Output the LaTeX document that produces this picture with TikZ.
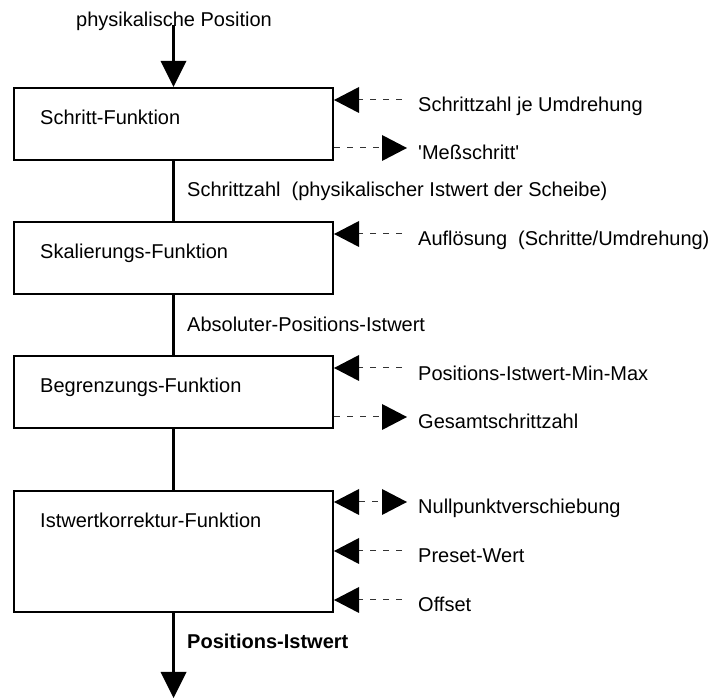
\documentclass[tikz,border=0pt]{standalone}
\usepackage{fontspec}
\setmainfont{Liberation Sans}
\usetikzlibrary{arrows.meta}

\begin{document}
\begin{tikzpicture}[x=1pt, y=-1pt,
  every node/.style={font=\fontsize{20}{24}\selectfont, inner sep=0pt},
  funcbox/.style={draw, line width=2pt, minimum width=319pt, fill=white},
  flow/.style={line width=2.2pt},
  flowarrow/.style={flow, -{Triangle[length=26pt, width=26pt, line width=0pt]}},
  tip/.style={},
  sidebase/.style={draw=black!80, line width=1pt, dash pattern=on 6pt off 7pt},
  sidein/.style={sidebase,
    -{Triangle[length=25pt, width=26pt, line width=0pt, fill=black, color=black]}},
  sideout/.style={sidebase,
    -{Triangle[length=25pt, width=26pt, line width=0pt, fill=black, color=black]}},
  sideboth/.style={sidebase,
    {Triangle[length=25pt, width=26pt, line width=0pt, fill=black, color=black]}-{Triangle[length=25pt, width=26pt, line width=0pt, fill=black, color=black]}},
  lbl/.style={anchor=base west},
]
\useasboundingbox (0,0) rectangle (716,700);

% function blocks
\node[funcbox, minimum height=72pt]  (b1) at (173.5,124)   {};
\node[funcbox, minimum height=72pt]  (b2) at (173.5,258)   {};
\node[funcbox, minimum height=72pt]  (b3) at (173.5,392)   {};
\node[funcbox, minimum height=121pt] (b4) at (173.5,551.5) {};

\node[lbl] (t1) at (40,125) {Schritt-Funktion};
\node[lbl] (t2) at (40,259) {Skalierungs-Funktion};
\node[lbl] (t3) at (40,393) {Begrenzungs-Funktion};
\node[lbl] (t4) at (40,528) {Istwertkorrektur-Funktion};

% main signal path
\node[lbl] (pin) at (76,27) {physikalische Position};
\coordinate (src) at (173.5,25);
\coordinate (dst) at (173.5,698);
\draw[flowarrow] (src) -- (b1.north);
\draw[flow] (b1.south) -- (b2.north);
\draw[flow] (b2.south) -- (b3.north);
\draw[flow] (b3.south) -- (b4.north);
\draw[flowarrow] (b4.south) -- (dst);

\node[lbl] (s1) at (187,197) {Schrittzahl\ \ (physikalischer Istwert der Scheibe)};
\node[lbl] (s2) at (187,332) {Absoluter-Positions-Istwert};
\node[lbl, font=\fontsize{20}{24}\selectfont\bfseries] (s3) at (187,649) {Positions-Istwert};

% parameters and outputs at the side
\node[lbl] (l1) at (418,112) {Schrittzahl je Umdrehung};
\node[lbl] (l2) at (418,160) {\textquotesingle Meßschritt\textquotesingle};
\node[lbl] (l3) at (418,246) {Auflösung\ \ (Schritte/Umdrehung)};
\node[lbl] (l4) at (418,381) {Positions-Istwert-Min-Max};
\node[lbl] (l5) at (418,429) {Gesamtschrittzahl};
\node[lbl] (l6) at (418,514) {Nullpunktverschiebung};
\node[lbl] (l7) at (418,563) {Preset-Wert};
\node[lbl] (l8) at (418,612) {Offset};

\coordinate (p1) at (402,100);
\coordinate (p2) at (407,148);
\coordinate (p3) at (402,234);
\coordinate (p4) at (402,368);
\coordinate (p5) at (407,417);
\coordinate (p6) at (407,502);
\coordinate (p7) at (402,551);
\coordinate (p8) at (402,600);

\draw[sidein]   (p1) -- (p1 -| b1.east);
\draw[sideout]  (p2 -| b1.east) -- (p2);
\draw[sidein]   (p3) -- (p3 -| b2.east);
\draw[sidein]   (p4) -- (p4 -| b3.east);
\draw[sideout]  (p5 -| b3.east) -- (p5);
\draw[sideboth] (p6 -| b4.east) -- (p6);
\draw[sidein]   (p7) -- (p7 -| b4.east);
\draw[sidein]   (p8) -- (p8 -| b4.east);
\end{tikzpicture}
\end{document}
